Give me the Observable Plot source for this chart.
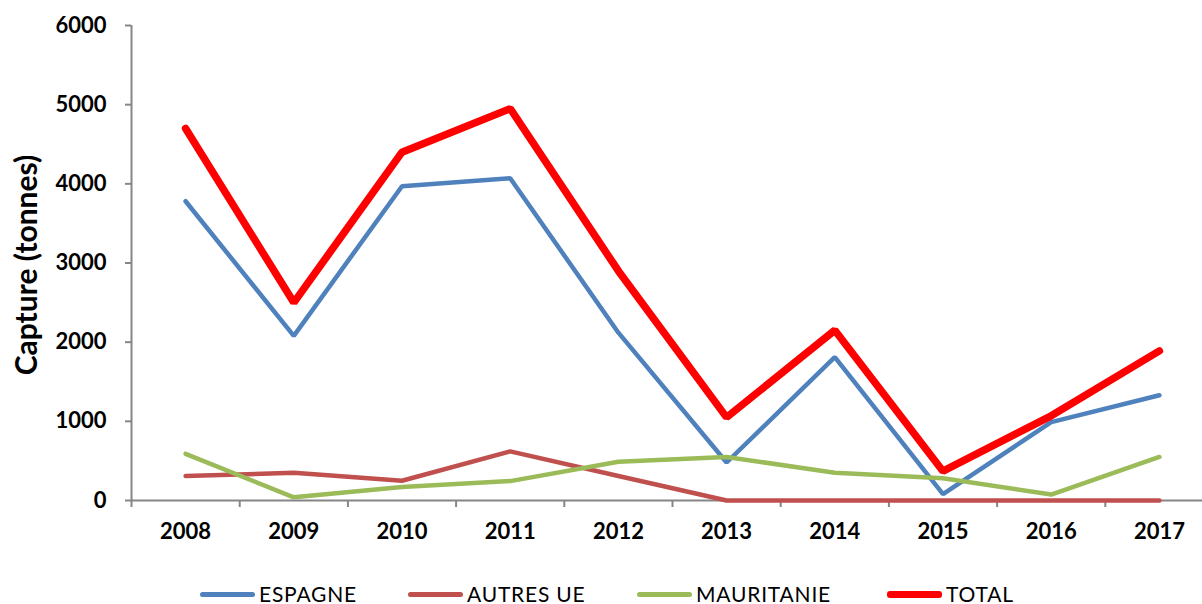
<!DOCTYPE html>
<html>
<head>
<meta charset="utf-8">
<script src="https://cdn.jsdelivr.net/npm/d3@7"></script>
<script src="https://cdn.jsdelivr.net/npm/@observablehq/plot@0.6"></script>
<style>
  html, body { margin: 0; padding: 0; background: #fff; }
  #wrap { position: relative; width: 1202px; height: 604px; font-family: Lato, "Open Sans", sans-serif; }
  #wrap svg { overflow: visible; }
  .legend-item { position: absolute; top: 583px; height: 22px; display: flex; align-items: center; }
  .swatch { width: 55px; border-radius: 3px; margin-right: 4px; }
  .legend-item span { font-size: 21px; line-height: 22px; color: #000; letter-spacing: 0.8px; white-space: nowrap; }
</style>
</head>
<body>
<div id="wrap"></div>
<script>
// Annual catch by fleet, in tonnes
const years = [2008, 2009, 2010, 2011, 2012, 2013, 2014, 2015, 2016, 2017];
const espagne    = [3780, 2080, 3970, 4070, 2120, 480, 1810, 80, 990, 1330];
const autresUE   = [310, 350, 250, 620, 310, 0, 0, 0, 0, 0];
const mauritanie = [590, 40, 170, 245, 490, 550, 350, 280, 75, 550];
const total      = [4700, 2500, 4400, 4950, 2900, 1050, 2150, 370, 1070, 1890];

const seriesNames  = ["ESPAGNE", "AUTRES UE", "MAURITANIE", "TOTAL"];
const seriesValues = [espagne, autresUE, mauritanie, total];
const seriesColors = ["#4F81BD", "#C0504D", "#9BBB59", "#FF0000"];
const seriesWidths = [4.5, 4.5, 4.5, 7.5];

const yTicks = [0, 1000, 2000, 3000, 4000, 5000, 6000];
const yTitle = "Capture (tonnes)";

// Long-format table: one row per year and series
const rows = seriesNames.flatMap((name, i) =>
  years.map((year, j) => ({ series: name, year, value: seriesValues[i][j] }))
);

// Category boundaries between consecutive years
const edges = d3.range(years[0] - 0.5, years[years.length - 1] + 1, 1);

const axisGray = "#868686";
const font = "Lato, 'Open Sans', sans-serif";

const chart = Plot.plot({
  width: 1202,
  height: 560,
  marginTop: 25,
  marginBottom: 60,
  marginLeft: 131,
  marginRight: 0,
  style: { fontFamily: font, background: "transparent", overflow: "visible" },
  x: { type: "linear", domain: [edges[0], edges[edges.length - 1]], range: [131, 1213] },
  y: { domain: [0, 6000], range: [500, 25] },
  marks: [
    // y axis: line, ticks and labels
    Plot.ruleX([edges[0]], { y1: 0, y2: 6000, stroke: axisGray, strokeWidth: 2 }),
    Plot.axisY({
      ticks: yTicks, tickSize: 6, tickPadding: 19, tickFormat: d3.format("d"),
      stroke: axisGray, strokeWidth: 2, fill: "#000",
      fontSize: 22, fontWeight: "bold", label: null
    }),
    Plot.text([yTitle], {
      frameAnchor: "left", dx: -104, dy: 2, rotate: -90, textAnchor: "middle",
      fontSize: 30, fontWeight: "bold", fill: "#000", lineAnchor: "middle"
    }),
    // x axis: baseline, category boundary ticks, year labels
    Plot.ruleY([0], { x1: edges[0], x2: edges[edges.length - 1], stroke: axisGray, strokeWidth: 2 }),
    Plot.axisX({
      ticks: edges, tickSize: 7, tickFormat: () => "",
      stroke: axisGray, strokeWidth: 2, label: null
    }),
    Plot.axisX({
      ticks: years, tickSize: 0, tickPadding: 23, tickFormat: d => String(d),
      fill: "#000", fontSize: 22, fontWeight: "bold", label: null
    }),
    // one line per series
    ...seriesNames.map((name, i) =>
      Plot.line(rows.filter(d => d.series === name), {
        x: "year", y: "value",
        stroke: seriesColors[i], strokeWidth: seriesWidths[i],
        strokeLinecap: "round", strokeLinejoin: "miter"
      })
    )
  ]
});

const wrap = document.getElementById("wrap");
wrap.appendChild(chart);

// Legend below the chart
const legendSwatchLeft = [200, 408, 637, 887];
seriesNames.forEach((name, i) => {
  const item = document.createElement("div");
  item.className = "legend-item";
  item.style.left = legendSwatchLeft[i] + "px";
  const sw = document.createElement("div");
  sw.className = "swatch";
  sw.style.background = seriesColors[i];
  sw.style.height = (i === 3 ? 7 : 5) + "px";
  const label = document.createElement("span");
  label.textContent = name;
  item.appendChild(sw);
  item.appendChild(label);
  wrap.appendChild(item);
});
</script>
</body>
</html>
